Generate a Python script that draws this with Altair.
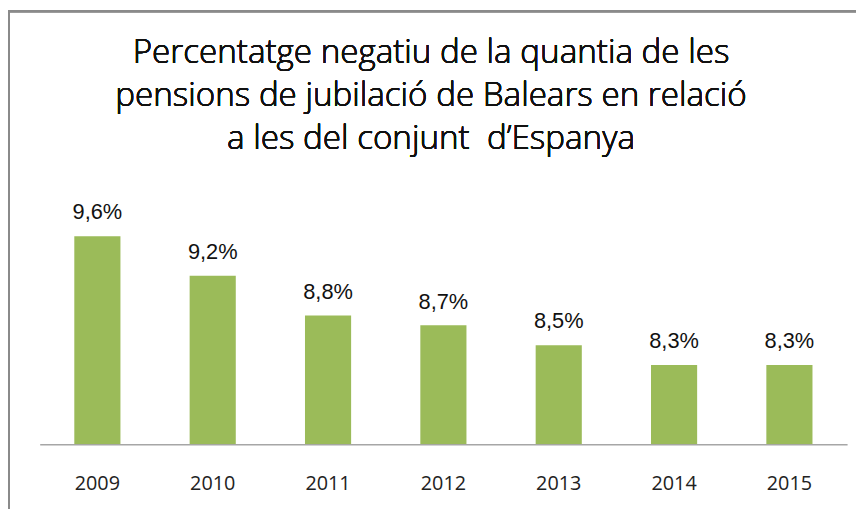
import altair as alt
import pandas as pd

years = ["2009", "2010", "2011", "2012", "2013", "2014", "2015"]
values = [9.6, 9.2, 8.8, 8.7, 8.5, 8.3, 8.3]
title_lines = [
    "Percentatge negatiu de la quantia de les",
    "pensions de jubilació de Balears en relació",
    "a les del conjunt \u00a0d\u2019Espanya",
]

df = pd.DataFrame({"year": years, "value": values})
df["label"] = [f"{v:.1f}%".replace(".", ",") for v in values]

W, H = 815, 250

base = alt.Chart(df).encode(
    x=alt.X("year:N", sort=years,
            scale=alt.Scale(paddingInner=0.6, paddingOuter=0.3),
            axis=alt.Axis(title=None, labelAngle=0, ticks=False, domainColor="#a6a6a6",
                          domainWidth=1.5, labelFont="Open Sans", labelFontSize=20,
                          labelColor="#222222", labelPadding=30, grid=False)),
    y=alt.Y("value:Q", scale=alt.Scale(domain=[7.5, 10], zero=False, clamp=True),
            axis=None),
)

bars = base.mark_bar(color="#9BBB59", clip=True)
labels = base.mark_text(dy=-17, baseline="alphabetic", font="Liberation Sans",
                        fontSize=22, color="#111111").encode(text="label:N")

frame_left = alt.Chart(df).mark_rule(color="#8a8a8a", strokeWidth=2, clip=False).encode(
    x=alt.value(-31), y=alt.value(-188), y2=alt.value(H + 80))
frame_top = alt.Chart(df).mark_rule(color="#8a8a8a", strokeWidth=2, clip=False).encode(
    x=alt.value(-32), x2=alt.value(W + 20), y=alt.value(-187))

title_baselines = [-135, -91, -48]
title_layers = [
    alt.Chart(df).mark_text(text=line, font="Open Sans", fontSize=33.5, fontWeight=300,
                            color="#111111", align="center", baseline="alphabetic",
                            clip=False).encode(
        x=alt.value(395), y=alt.value(yb))
    for line, yb in zip(title_lines, title_baselines)
]

chart = alt.layer(bars, labels, frame_left, frame_top, *title_layers).properties(
    width=W, height=H,
    autosize=alt.AutoSizeParams(type="none"),
    padding={"left": 32, "top": 188, "right": 9, "bottom": 63},
).configure_view(stroke=None)

chart.save("out.html", embed_options={"renderer": "svg", "actions": False})
